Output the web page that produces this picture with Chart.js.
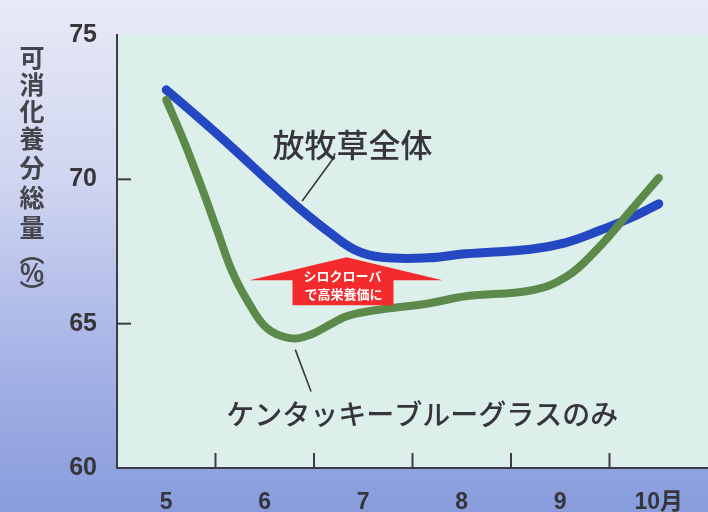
<!DOCTYPE html>
<html lang="ja">
<head>
  <meta charset="UTF-8" />
  <title>可消化養分総量</title>
  <script src="https://cdn.jsdelivr.net/npm/chart.js"></script>
  <style>
    html, body {
      margin: 0;
      padding: 0;
    }
    body {
      width: 708px;
      height: 512px;
      overflow: hidden;
      background: linear-gradient(to bottom, #e8e9f6 0%, #d0d6f0 35%, #a6b3e6 70%, #889cdc 100%);
    }
    canvas {
      display: block;
    }
  </style>
</head>
<body>
  <canvas id="tdnChart" width="708" height="512"></canvas>

  <script>
    // months (5 = May ... 10 = October) and TDN values
    const blueMonths = [5.0, 5.34, 5.67, 6.02, 6.35, 6.68, 6.92, 7.19, 7.66, 8.04, 8.7, 9.05, 9.38, 9.71, 10.0];
    const blueValues = [73.1, 72.1, 71.1, 70.0, 69.0, 68.1, 67.55, 67.3, 67.28, 67.42, 67.58, 67.8, 68.2, 68.66, 69.15];

    const greenMonths = [5.0, 5.17, 5.34, 5.51, 5.67, 5.84, 6.02, 6.25, 6.45, 6.68, 6.85, 7.19, 7.66, 8.04, 8.7, 9.05, 9.38, 9.71, 10.0];
    const greenValues = [72.75, 71.4, 69.9, 68.3, 66.8, 65.7, 64.85, 64.5, 64.6, 65.0, 65.28, 65.5, 65.7, 65.95, 66.15, 66.6, 67.6, 68.9, 70.05];

    const xTickMonths = [5, 6, 7, 8, 9, 10];
    const xTickLabels = ['5', '6', '7', '8', '9', '10月'];
    const xTickMarks = [5.5, 6.5, 7.5, 8.5, 9.5];
    const yTickMarks = [65, 70];

    const yTitleChars = ['可', '消', '化', '養', '分', '総', '量', '︵', '%', '︶'];

    const blueName = '放牧草全体';
    const greenName = 'ケンタッキーブルーグラスのみ';
    const arrowLines = ['シロクローバ', 'で高栄養価に'];

    const numFont = "'Liberation Sans Narrow', 'Liberation Sans', 'Noto Sans CJK JP', sans-serif";
    const jpFont = "'Noto Sans CJK JP', sans-serif";
    const axisColor = '#3c3c44';
    const textColor = '#35353a';

    const toPoints = (xs, ys) => xs.map((x, i) => ({ x: x, y: ys[i] }));

    // mint plot background, runs to the right edge of the picture
    const plotBackground = {
      id: 'plotBackground',
      beforeDraw(chart) {
        const { ctx, chartArea } = chart;
        ctx.save();
        ctx.fillStyle = '#ddefeb';
        ctx.fillRect(chartArea.left, chartArea.top - 1, chart.width - chartArea.left, chartArea.bottom - chartArea.top + 1);
        ctx.restore();
      }
    };

    // inner tick marks, vertical axis title, callouts, red arrow
    const extras = {
      id: 'extras',
      afterDatasetsDraw(chart) {
        const { ctx, chartArea } = chart;
        const xs = chart.scales.x;
        const ys = chart.scales.y;
        const px = v => xs.getPixelForValue(v);
        const py = v => ys.getPixelForValue(v);
        ctx.save();

        // tick marks inside the plot
        ctx.strokeStyle = axisColor;
        ctx.lineWidth = 2;
        xTickMarks.forEach(m => {
          ctx.beginPath();
          ctx.moveTo(px(m), chartArea.bottom);
          ctx.lineTo(px(m), chartArea.bottom - 15);
          ctx.stroke();
        });
        yTickMarks.forEach(v => {
          ctx.beginPath();
          ctx.moveTo(chartArea.left, py(v));
          ctx.lineTo(chartArea.left + 14, py(v));
          ctx.stroke();
        });

        // vertical y title, one character per line
        ctx.fillStyle = '#44444c';
        ctx.font = 'bold 25px ' + jpFont;
        ctx.textAlign = 'center';
        ctx.textBaseline = 'middle';
        const steps = [0, 27, 54, 81, 110, 140, 170, 195, 215, 235];
        yTitleChars.forEach((c, i) => {
          ctx.fillText(c, 32, 57 + steps[i]);
        });

        // callout leader lines
        ctx.strokeStyle = '#3a3a3a';
        ctx.lineWidth = 1.6;
        ctx.beginPath();
        ctx.moveTo(px(6.38), py(69.25));
        ctx.lineTo(px(6.68), py(70.65));
        ctx.quadraticCurveTo(px(6.71), py(70.8), px(6.71), py(70.9));
        ctx.stroke();
        ctx.beginPath();
        ctx.moveTo(px(6.31), py(64.1));
        ctx.lineTo(px(6.47), py(62.65));
        ctx.stroke();

        // series names
        ctx.fillStyle = textColor;
        ctx.font = '500 32px ' + jpFont;
        ctx.fillText(blueName, px(6.89), py(71.2));
        ctx.font = '500 28px ' + jpFont;
        ctx.fillText(greenName, px(7.6), py(61.85));

        // red arrow pointing up
        const tx = px(6.83);
        const ty = py(67.3);
        ctx.fillStyle = '#f42a2c';
        ctx.beginPath();
        ctx.moveTo(tx, ty);
        ctx.lineTo(tx + 96, ty + 23);
        ctx.lineTo(tx + 47, ty + 23);
        ctx.lineTo(tx + 47, ty + 48);
        ctx.lineTo(tx - 54, ty + 48);
        ctx.lineTo(tx - 54, ty + 23);
        ctx.lineTo(tx - 97, ty + 23);
        ctx.closePath();
        ctx.fill();
        ctx.fillStyle = '#ffffff';
        ctx.font = 'bold 13px ' + jpFont;
        ctx.fillText(arrowLines[0], tx - 4, ty + 19);
        ctx.fillText(arrowLines[1], tx - 3, ty + 37);

        ctx.restore();
      }
    };

    const ctx = document.getElementById('tdnChart').getContext('2d');
    new Chart(ctx, {
      type: 'line',
      data: {
        datasets: [
          {
            label: greenName,
            data: toPoints(greenMonths, greenValues),
            borderColor: '#5b8a4a',
            borderWidth: 8,
            borderCapStyle: 'round',
            borderJoinStyle: 'round',
            pointRadius: 0,
            tension: 0.4,
            fill: false
          },
          {
            label: blueName,
            data: toPoints(blueMonths, blueValues),
            borderColor: '#2447c2',
            borderWidth: 9,
            borderCapStyle: 'round',
            borderJoinStyle: 'round',
            pointRadius: 0,
            tension: 0.4,
            fill: false
          }
        ]
      },
      options: {
        responsive: false,
        animation: false,
        layout: {
          padding: { top: 33, left: 0, right: 0, bottom: 0 }
        },
        scales: {
          x: {
            type: 'linear',
            min: 4.5,
            max: 10.5,
            afterBuildTicks: scale => {
              scale.ticks = xTickMonths.map(v => ({ value: v }));
            },
            afterFit: scale => {
              scale.height = 44;
            },
            grid: { display: false, drawTicks: false },
            border: { display: true, color: axisColor, width: 2 },
            ticks: {
              padding: 21,
              autoSkip: false,
              maxRotation: 0,
              color: textColor,
              font: { family: numFont, size: 23, weight: 'bold' },
              callback: (value) => xTickLabels[xTickMonths.indexOf(value)]
            }
          },
          y: {
            min: 60,
            max: 75,
            afterFit: scale => {
              scale.width = 117;
            },
            grid: { display: false, drawTicks: false },
            border: { display: true, color: axisColor, width: 2 },
            ticks: {
              stepSize: 5,
              padding: 20,
              color: textColor,
              font: { family: numFont, size: 25, weight: 'bold' }
            }
          }
        },
        plugins: {
          legend: { display: false },
          tooltip: { enabled: false }
        }
      },
      plugins: [plotBackground, extras]
    });
  </script>
</body>
</html>
